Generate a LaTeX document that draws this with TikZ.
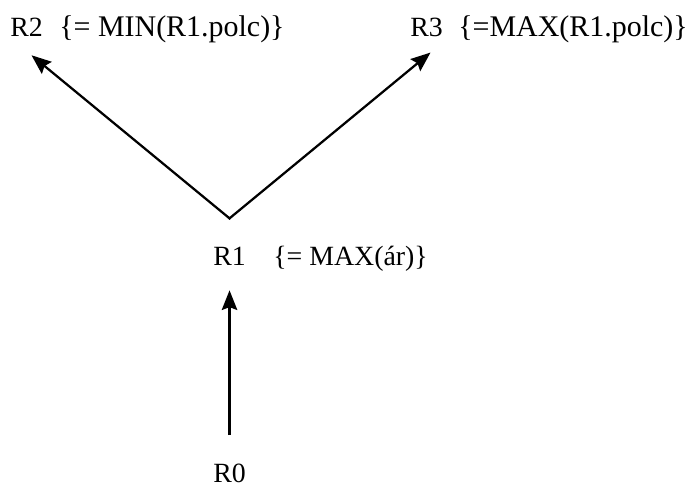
\documentclass[tikz,border=0pt]{standalone}
\usepackage{fontspec}
\setmainfont{Liberation Serif}
\usepackage{tikz}
\usetikzlibrary{arrows.meta, positioning, calc}
\tikzset{
  rname/.style={inner sep=0pt, anchor=base west, font=\fontsize{19.8}{23}\selectfont},
  rnote/.style={inner sep=0pt, anchor=base west, font=\fontsize{19.8}{23}\selectfont},
  rnotetop/.style={rnote, font=\fontsize{21.3}{25}\selectfont},
  rarr/.style={-{Stealth[length=14pt, width=11pt, inset=2pt]}, line width=1.6pt, color=black},
}

\begin{document}
\begin{tikzpicture}[x=0.025cm, y=-0.025cm]
  \useasboundingbox (0,0) rectangle (688,487);
  \node[rname] (r2) at (10,36) {R2};
  \node[rnotetop] (r2note) at (59,36) {\{= MIN(R1.polc)\}};
  \node[rname] (r3) at (410,36) {R3};
  \node[rnotetop] (r3note) at (458,36) {\{=MAX(R1.polc)\}};
  \node[rname] (r1) at (213,265) {R1};
  \node[rnote] (r1note) at (273,265) {\{= MAX(ár)\}};
  \node[rname] (r0) at (213,482) {R0};
  \coordinate (split) at ($(r1.north)+(0,-28)$);
  \draw[rarr] ($(r0.north)+(0,-28)$) -- ($(r1.south)+(0,25)$);
  \draw[rarr, shorten <=-0.8pt] (split) -- ($(r2.south)+(5,19)$);
  \draw[rarr, shorten <=-0.8pt] (split) -- ($(r3.south)+(4,16)$);
\end{tikzpicture}
\end{document}
